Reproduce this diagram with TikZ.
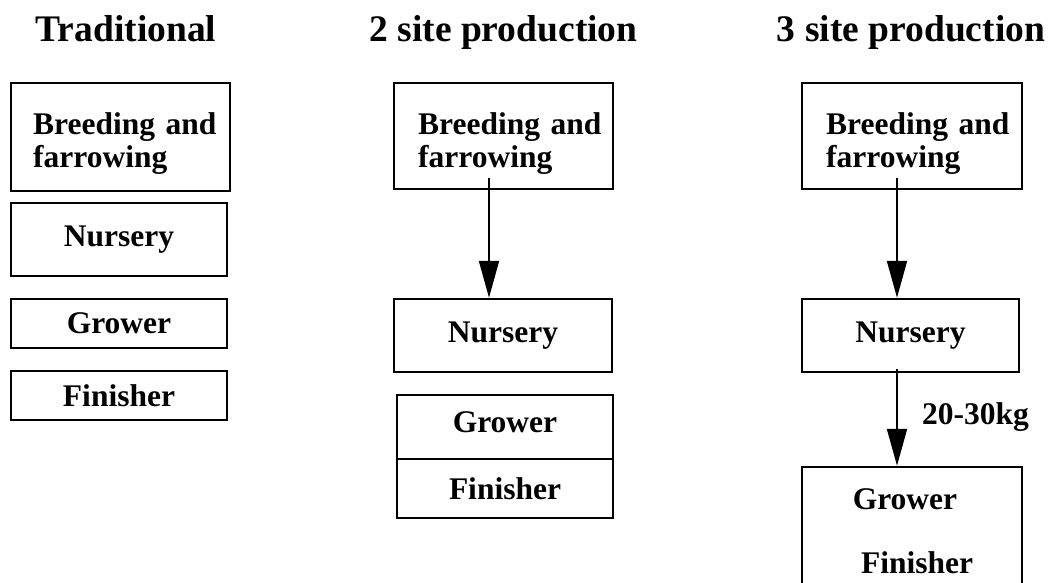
\documentclass[tikz,border=0pt]{standalone}
\usepackage{fontspec}
\setmainfont{Liberation Serif}
\usetikzlibrary{arrows.meta}

\newcommand{\boxfont}{\fontsize{31.5}{33}\selectfont\bfseries}
\newcommand{\headfont}{\fontsize{37.5}{40}\selectfont\bfseries}

\begin{document}
\begin{tikzpicture}
  [x=1pt, y=-1pt,
  stage/.style={draw, line width=2.5pt, inner sep=0pt, font=\boxfont},
  word/.style={font=\boxfont, inner sep=0pt, anchor=base},
  head/.style={font=\headfont, inner sep=0pt, anchor=base},
  multi/.style={font=\boxfont, inner sep=0pt, anchor=base west, text width=200pt, align=left},
  flow/.style={line width=2pt, -{Triangle[length=37pt, width=20pt]}},
  ]
  \useasboundingbox (0,0) rectangle (1050,583);

  % column headings
  \node[head] (htrad) at (126,42) {Traditional};
  \node[head] (htwo) at (503.5,42) {2 site production};
  \node[head] (hthree) at (911,42) {3 site production};

  % traditional: all on one site
  \node[stage, minimum width=219pt, minimum height=108pt] (tbreed) at (120.5,137) {};
  \node[multi] (tbreedtxt) at (33,135) {Breeding and\\farrowing};
  \node[stage, minimum width=216pt, minimum height=73pt] (tnurs) at (119,239.5) {Nursery};
  \node[stage, minimum width=216pt, minimum height=49pt] (tgrow) at (119,323.5) {Grower};
  \node[stage, minimum width=216pt, minimum height=49pt] (tfin) at (119,395.5) {Finisher};

  % 2 site
  \node[stage, minimum width=219pt, minimum height=106pt] (sbreed) at (503.5,136) {};
  \node[multi] (sbreedtxt) at (418,135) {Breeding and\\farrowing};
  \node[stage, minimum width=218pt, minimum height=73pt] (snurs) at (503,335.5) {Nursery};
  \node[stage, minimum width=216pt, minimum height=64pt, text depth=10pt] (sgrow) at (505,427) {Grower};
  \node[stage, minimum width=216pt, minimum height=59pt] (sfin) at (505,488.5) {Finisher};
  \coordinate (sa) at (489,178);
  \draw[flow] (sa) -- (sa |- snurs.north);

  % 3 site
  \node[stage, minimum width=220pt, minimum height=106pt] (dbreed) at (912,136) {};
  \node[multi] (dbreedtxt) at (826,135) {Breeding and\\farrowing};
  \node[stage, minimum width=217pt, minimum height=73pt] (dnurs) at (910.5,335.5) {Nursery};
  \node[stage, minimum width=220pt, minimum height=150pt] (dgf) at (912,542) {};
  \node[word] (dgrow) at (905,509) {Grower};
  \node[word] (dfin) at (917,573) {Finisher};
  \coordinate (da) at (897,178);
  \coordinate (db) at (897,369);
  \draw[flow] (da) -- (da |- dnurs.north);
  \draw[flow] (db) -- (db |- dgf.north);
  \node[word, anchor=base west] (dkg) at (922,424) {20-30kg};
\end{tikzpicture}
\end{document}
